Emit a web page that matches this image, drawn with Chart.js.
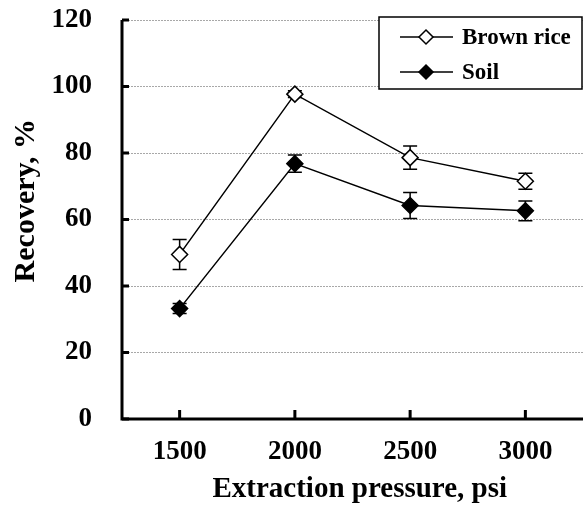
<!DOCTYPE html>
<html>
<head>
<meta charset="utf-8">
<script src="https://cdn.jsdelivr.net/npm/chart.js@4.4.1/dist/chart.umd.min.js"></script>
<style>
html,body{margin:0;padding:0;background:#fff;}
#wrap{width:583px;height:509px;position:relative;}
</style>
</head>
<body>
<div id="wrap"><canvas id="c" width="583" height="509"></canvas></div>
<script>
const categories = ['1500', '2000', '2500', '3000'];
const brownRice = [49.5, 97.7, 78.6, 71.5];
const brownRiceErr = [4.5, 1.0, 3.5, 2.4];
const soil = [33.2, 76.8, 64.2, 62.6];
const soilErr = [1.5, 2.6, 3.9, 3.0];
const yTicks = [0, 20, 40, 60, 80, 100, 120];

const SERIF = "'Liberation Serif', 'Times New Roman', serif";

const errorBars = {
  id: 'errorBars',
  beforeDatasetsDraw(chart) {
    const ctx = chart.ctx;
    const y = chart.scales.y;
    const errs = [brownRiceErr, soilErr];
    ctx.save();
    ctx.strokeStyle = '#000';
    ctx.lineWidth = 1.5;
    chart.data.datasets.forEach((ds, di) => {
      const meta = chart.getDatasetMeta(di);
      meta.data.forEach((pt, i) => {
        const v = ds.data[i], e = errs[di][i];
        const yt = y.getPixelForValue(v + e), yb = y.getPixelForValue(v - e);
        const x = pt.x;
        ctx.beginPath();
        ctx.moveTo(x, yt); ctx.lineTo(x, yb);
        ctx.moveTo(x - 7, yt); ctx.lineTo(x + 7, yt);
        ctx.moveTo(x - 7, yb); ctx.lineTo(x + 7, yb);
        ctx.stroke();
      });
    });
    ctx.restore();
  }
};

const axesPlugin = {
  id: 'axesPlugin',
  afterDraw(chart) {
    const ctx = chart.ctx;
    const a = chart.chartArea;
    const xs = chart.scales.x, ys = chart.scales.y;
    ctx.save();
    ctx.strokeStyle = '#000';
    ctx.lineWidth = 3;
    ctx.beginPath();
    ctx.moveTo(a.left, a.top);
    ctx.lineTo(a.left, a.bottom);
    ctx.lineTo(a.right, a.bottom);
    ctx.stroke();
    ctx.beginPath();
    yTicks.forEach(v => {
      const py = ys.getPixelForValue(v);
      ctx.moveTo(a.left, py); ctx.lineTo(a.left + 7, py);
    });
    categories.forEach((c, i) => {
      const px = xs.getPixelForValue(i);
      ctx.moveTo(px, a.bottom); ctx.lineTo(px, a.bottom - 9);
    });
    ctx.stroke();

    // legend
    const bx = 379, by = 17, bw = 203, bh = 72;
    ctx.fillStyle = '#fff';
    ctx.fillRect(bx, by, bw, bh);
    ctx.lineWidth = 1.5;
    ctx.strokeRect(bx, by, bw, bh);
    const rows = [37, 72];
    chart.data.datasets.forEach((ds, di) => {
      const ry = rows[di];
      ctx.lineWidth = 1.5;
      ctx.strokeStyle = '#000';
      ctx.beginPath();
      ctx.moveTo(400, ry); ctx.lineTo(453, ry);
      ctx.stroke();
      ctx.beginPath();
      const cx = 426, r = 7;
      ctx.moveTo(cx, ry - r); ctx.lineTo(cx + r, ry); ctx.lineTo(cx, ry + r); ctx.lineTo(cx - r, ry); ctx.closePath();
      ctx.fillStyle = ds.pointBackgroundColor;
      ctx.fill();
      ctx.stroke();
      ctx.fillStyle = '#000';
      ctx.font = 'bold 23px ' + SERIF;
      ctx.textAlign = 'left';
      ctx.textBaseline = 'middle';
      ctx.fillText(ds.label, 462, ry + 1);
    });
    ctx.restore();
  }
};

new Chart(document.getElementById('c'), {
  type: 'line',
  data: {
    labels: categories,
    datasets: [
      {
        label: 'Brown rice',
        data: brownRice,
        borderColor: '#000',
        borderWidth: 1.5,
        pointStyle: 'rectRot',
        pointRadius: 8,
        pointBorderWidth: 1.5,
        pointBorderColor: '#000',
        pointBackgroundColor: '#fff',
        tension: 0
      },
      {
        label: 'Soil',
        data: soil,
        borderColor: '#000',
        borderWidth: 1.5,
        pointStyle: 'rectRot',
        pointRadius: 8,
        pointBorderWidth: 1.5,
        pointBorderColor: '#000',
        pointBackgroundColor: '#000',
        tension: 0
      }
    ]
  },
  options: {
    responsive: false,
    animation: false,
    layout: { autoPadding: false, padding: { left: 0, right: 0, top: 20, bottom: 0 } },
    plugins: { legend: { display: false }, tooltip: { enabled: false } },
    scales: {
      x: {
        offset: true,
        grid: { display: false, drawTicks: false },
        border: { display: false },
        ticks: { color: '#000', font: { family: SERIF, size: 27, weight: 'bold' }, padding: 17, maxRotation: 0 },
        title: { display: true, text: '  Extraction pressure, psi', color: '#000', font: { family: SERIF, size: 29, weight: 'bold' }, padding: { top: 0, bottom: 2 } },
        afterFit(s) { s.height = 90; s.paddingLeft = 0; s.paddingRight = 0; }
      },
      y: {
        min: 0, max: 120,
        afterBuildTicks(s) { s.ticks = yTicks.map(v => ({ value: v })); },
        grid: {
          drawTicks: false,
          lineWidth: 1,
          color: c => (c.tick && c.tick.value === 0) ? 'rgba(0,0,0,0)' : '#a8a8a8'
        },
        border: { display: false, dash: [2, 1] },
        ticks: { color: '#000', font: { family: SERIF, size: 27, weight: 'bold' }, padding: 30 },
        title: { display: true, text: '     Recovery, %', color: '#000', font: { family: SERIF, size: 30, weight: 'bold' }, padding: { top: 8, bottom: 0 } },
        afterFit(s) { s.width = 122; s.paddingTop = 0; s.paddingBottom = 0; }
      }
    }
  },
  plugins: [errorBars, axesPlugin]
});
</script>
</body>
</html>
